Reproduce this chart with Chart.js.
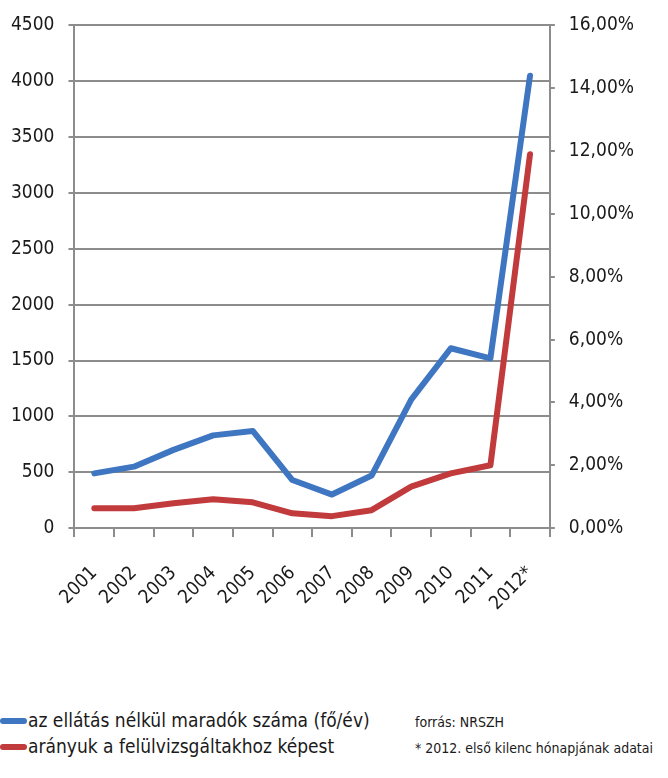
<!DOCTYPE html>
<html><head><meta charset="utf-8">
<script src="https://cdn.jsdelivr.net/npm/chart.js@4.4.0/dist/chart.umd.min.js"></script>
<style>
html,body{margin:0;padding:0;background:#fff;}
#wrap{position:relative;width:668px;height:778px;overflow:hidden;}
#cw{position:absolute;left:0;top:0;width:668px;height:640px;}
.row{position:absolute;left:0;height:24px;line-height:24px;white-space:nowrap;font-family:'DejaVu Sans Condensed','DejaVu Sans',sans-serif;color:#1a1a1a;font-size:19px;}
.sw{display:inline-block;width:27px;height:6px;border-radius:3px;vertical-align:middle;margin-right:1px;position:relative;top:-1px;}
.note{position:absolute;left:415px;white-space:nowrap;font-family:'DejaVu Sans Condensed','DejaVu Sans',sans-serif;color:#1a1a1a;font-size:14px;line-height:20px;}
</style></head>
<body><div id="wrap"><div id="cw"><canvas id="c"></canvas></div><div id="legend"></div></div>
<script>
const years = ['2001','2002','2003','2004','2005','2006','2007','2008','2009','2010','2011','2012*'];
const countSeries = [490, 550, 700, 830, 870, 430, 300, 470, 1150, 1610, 1520, 4050];
const shareSeries = [0.63, 0.63, 0.79, 0.92, 0.82, 0.47, 0.38, 0.57, 1.32, 1.74, 2.00, 11.9];
const seriesNames = ['az ellátás nélkül maradók száma (fő/év)', 'arányuk a felülvizsgáltakhoz képest'];
const seriesColors = ['#3f76c1', '#c13a3c'];
const leftTicks = [0, 500, 1000, 1500, 2000, 2500, 3000, 3500, 4000, 4500];
const rightTicks = [0, 2, 4, 6, 8, 10, 12, 14, 16];
const notes = ['forrás: NRSZH', '* 2012. első kilenc hónapjának adatai'];

const FONT = "'DejaVu Sans Condensed','DejaVu Sans',sans-serif";
const GRID = '#8c8c8c';
const TXT = '#1a1a1a';

// HTML legend + notes
const leg = document.getElementById('legend');
const rowTops = [708, 734];
seriesNames.forEach((n, i) => {
  const d = document.createElement('div');
  d.className = 'row';
  d.style.top = rowTops[i] + 'px';
  const s = document.createElement('span');
  s.className = 'sw';
  s.style.background = seriesColors[i];
  d.appendChild(s);
  d.appendChild(document.createTextNode(n));
  leg.appendChild(d);
});
const noteTops = [712, 738];
notes.forEach((n, i) => {
  const d = document.createElement('div');
  d.className = 'note';
  d.style.top = noteTops[i] + 'px';
  d.textContent = n;
  leg.appendChild(d);
});

new Chart(document.getElementById('c'), {
  type: 'line',
  data: {
    labels: years,
    datasets: [
      { label: seriesNames[0], data: countSeries, yAxisID: 'y', borderColor: seriesColors[0], backgroundColor: seriesColors[0], borderWidth: 6, pointRadius: 0, tension: 0, borderCapStyle: 'round', borderJoinStyle: 'round' },
      { label: seriesNames[1], data: shareSeries, yAxisID: 'y1', borderColor: seriesColors[1], backgroundColor: seriesColors[1], borderWidth: 6, pointRadius: 0, tension: 0, borderCapStyle: 'round', borderJoinStyle: 'round' }
    ]
  },
  options: {
    responsive: true,
    maintainAspectRatio: false,
    animation: false,
    layout: { padding: { left: -3, right: 20, top: 15, bottom: 0 } },
    plugins: { legend: { display: false }, tooltip: { enabled: false } },
    scales: {
      x: {
        offset: true,
        grid: { display: true, drawOnChartArea: false, offset: true, tickLength: 9, color: GRID, lineWidth: 2 },
        border: { display: true, color: GRID, width: 2 },
        ticks: { autoSkip: false, minRotation: 45, maxRotation: 45, padding: 25, color: TXT, font: { family: FONT, size: 19 } }
      },
      y: {
        position: 'left',
        min: leftTicks[0], max: leftTicks[leftTicks.length - 1],
        afterBuildTicks: (s) => { s.ticks = leftTicks.map(v => ({ value: v })); },
        grid: { color: GRID, lineWidth: 2, tickLength: 6 },
        border: { display: true, color: GRID, width: 2 },
        ticks: { padding: 14, color: TXT, font: { family: FONT, size: 19 }, callback: (v) => String(v) }
      },
      y1: {
        position: 'right',
        min: rightTicks[0], max: rightTicks[rightTicks.length - 1],
        afterBuildTicks: (s) => { s.ticks = rightTicks.map(v => ({ value: v })); },
        grid: { drawOnChartArea: false, color: GRID, lineWidth: 2, tickLength: 5 },
        border: { display: true, color: GRID, width: 2 },
        ticks: { padding: 14, color: TXT, font: { family: FONT, size: 19 },
          callback: (v) => v.toFixed(2).replace('.', ',') + '%' }
      }
    }
  }
});
</script>
</body></html>
